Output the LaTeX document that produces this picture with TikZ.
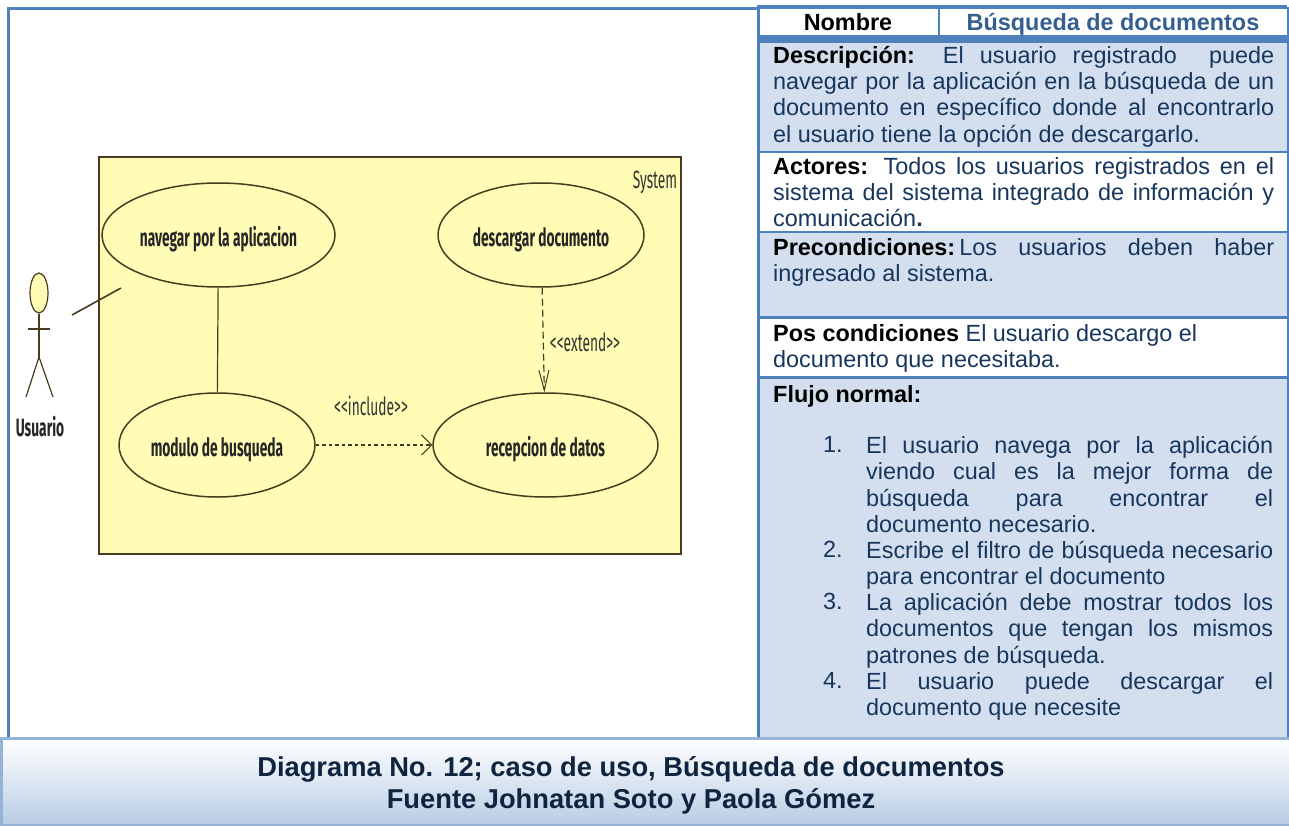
\documentclass[tikz,border=0pt]{standalone}
\usepackage{fontspec}
\setmainfont{Liberation Sans}
\newfontfamily\umlfont[FakeStretch=0.55]{Fira Sans}
\usetikzlibrary{arrows.meta,shapes.geometric}
\definecolor{tablaborde}{HTML}{4F81BD}
\definecolor{filaazul}{HTML}{D3DFEE}
\definecolor{textoazul}{HTML}{17365D}
\definecolor{tituloazul}{HTML}{365F91}
\definecolor{pieborde}{HTML}{95B3D7}
\definecolor{pieazul}{HTML}{B8CCE4}
\definecolor{pietexto}{HTML}{0F243E}
\definecolor{sistema}{HTML}{FFFCB5}
\definecolor{linea}{HTML}{4A3A20}
\tikzset{
	fila/.style={draw=tablaborde,line width=2.5pt,anchor=north west,inner sep=0pt,minimum width=530pt},
	filaazul/.style={fila,fill=filaazul},
	filablanca/.style={fila,fill=white},
	texto/.style={anchor=north west,inner sep=0pt,text=textoazul,align=justify,font=\fontsize{23.4}{26.3}\selectfont},
	casouso/.style={ellipse,draw=linea,line width=1.5pt,fill=sistema,inner sep=0pt,text height=28pt,font=\umlfont\fontsize{25}{28}\selectfont\bfseries,text=black!85},
	etiqueta/.style={font=\umlfont\fontsize{25}{28}\selectfont,text=black!80,inner sep=0pt},
	uml/.style={draw=linea,line width=1.2pt},
	puntaextend/.style={-{Straight Barb[length=20pt,width=10pt,line width=1pt]}},
	puntainclude/.style={-{Straight Barb[length=10pt,width=20pt,line width=1pt]}}
}
\begin{document}
\begin{tikzpicture}[x=1pt,y=-1pt]
	\useasboundingbox (0,0) rectangle (1289,826);
	\node[draw=tablaborde,line width=3pt,fill=white,anchor=north west,inner sep=0pt,minimum width=750pt,minimum height=731pt] (panel) at (7,7) {};
	\node[draw=linea,line width=2pt,fill=sistema,anchor=north west,inner sep=0pt,minimum width=582pt,minimum height=397pt] (sistema) at (98,156) {};
	\node[etiqueta] (systemlabel) at (655,182) {System};
	\node[casouso,minimum width=233pt,minimum height=104pt] (navegar) at (218.5,235) {navegar por la aplicacion};
	\node[casouso,minimum width=196pt,minimum height=104pt] (modulo) at (217,445) {modulo de busqueda};
	\node[casouso,minimum width=206pt,minimum height=104pt] (descargar) at (541,235) {descargar documento};
	\node[casouso,minimum width=225pt,minimum height=104pt] (recepcion) at (545.5,445) {recepcion de datos};
	\node[etiqueta] (include) at (371,406) {<<include>>};
	\node[etiqueta] (extend) at (585,342) {<<extend>>};
	\node[ellipse,uml,fill=sistema,inner sep=0pt,minimum width=18pt,minimum height=40pt] (cabeza) at (39,293) {};
	\coordinate (cadera) at (39,357);
	\coordinate (brazoi) at (28,329);
	\coordinate (brazod) at (50,329);
	\coordinate (piei) at (26,397);
	\coordinate (pied) at (53,397);
	\coordinate (asocini) at (72,315);
	\coordinate (asocfin) at (121,288);
	\node[font=\umlfont\fontsize{25}{28}\selectfont\bfseries,text=black!85,inner sep=0pt] (usuario) at (40,427) {Usuario};
	\draw[uml](cabeza)--(cadera);
	\draw[uml](brazoi)--(brazod);
	\draw[uml](cadera)--(piei);
	\draw[uml](cadera)--(pied);
	\draw[uml,line width=1.6pt](asocini)--(asocfin);
	\draw[uml](navegar)--(modulo);
	\draw[uml,puntaextend,dash pattern=on 7pt off 4pt](descargar)--(recepcion);
	\draw[uml,puntainclude,line width=1.8pt,dash pattern=on 3.5pt off 3pt](modulo)--(recepcion);
	\node[filablanca,minimum height=34pt] (nombre) at (757,7) {};
	\node[filaazul,minimum height=110pt] (descripcion) at (757,41) {};
	\node[filablanca,minimum height=80pt] (actores) at (757,151) {};
	\node[filaazul,minimum height=85pt] (precond) at (757,231) {};
	\node[filablanca,minimum height=60pt] (poscond) at (757,316) {};
	\node[filaazul,minimum height=361pt] (flujo) at (757,376) {};
	\draw[draw=tablaborde,line width=3pt] (757,7)--(1287,7);
	\draw[draw=tablaborde,line width=6pt] (757,38)--(1287,38);
	\coordinate (divarriba) at (939,7);
	\coordinate (divabajo) at (939,37);
	\draw[draw=tablaborde,line width=1.5pt](divarriba)--(divabajo);
	\node[anchor=base,inner sep=0pt,font=\fontsize{23.4}{26}\selectfont\bfseries,text=black] (nombrelabel) at (848,31) {Nombre};
	\node[anchor=base,inner sep=0pt,font=\fontsize{23.4}{26}\selectfont\bfseries,text=tituloazul] (titulo) at (1113,31) {Búsqueda de documentos};
	\node[texto,text width=501pt] (t1) at (773,46) {\textcolor{black}{\textbf{Descripción:}} El usuario registrado\ \ puede\linebreak navegar por la aplicación en la búsqueda de un\linebreak documento en específico donde al encontrarlo\linebreak el usuario tiene la opción de descargarlo.};
	\node[texto,text width=501pt] (t2) at (773,157) {\textcolor{black}{\textbf{Actores:}} Todos los usuarios registrados en el\linebreak sistema del sistema integrado de información y\linebreak comunicación\textbf{.}};
	\node[texto,text width=501pt] (t3) at (773,238) {\textcolor{black}{\textbf{Precondiciones:}}\hspace{4pt}Los usuarios deben haber\linebreak ingresado al sistema.};
	\node[texto,text width=501pt] (t4) at (773,324) {\textcolor{black}{\textbf{Pos condiciones}} El usuario descargo el\\documento que necesitaba.};
	\node[texto,text width=501pt] (t5) at (773,385) {\textcolor{black}{\textbf{Flujo normal:}}};
	\node[texto,text width=30pt] (n1) at (823,436) {1.};
	\node[texto,text width=407pt] (i1) at (866,436) {El usuario navega por la aplicación\linebreak viendo cual es la mejor forma de\linebreak búsqueda para encontrar el\linebreak documento necesario.};
	\node[texto,text width=30pt] (n2) at (823,541) {2.};
	\node[texto,text width=407pt] (i2) at (866,541) {Escribe el filtro de búsqueda necesario\linebreak para encontrar el documento};
	\node[texto,text width=30pt] (n3) at (823,593) {3.};
	\node[texto,text width=407pt] (i3) at (866,593) {La aplicación debe mostrar todos los\linebreak documentos que tengan los mismos\linebreak patrones de búsqueda.};
	\node[texto,text width=30pt] (n4) at (823,672) {4.};
	\node[texto,text width=407pt] (i4) at (866,672) {El usuario puede descargar el\linebreak documento que necesite};
	\node[anchor=north west,inner sep=0pt,draw=pieborde,line width=2.5pt,top color=white,bottom color=pieazul,minimum width=1289pt,minimum height=87pt] (pie) at (0,737) {};
	\node[inner sep=0pt,align=center,text=pietexto,font=\fontsize{27.3}{32}\selectfont\bfseries] (pietexto) at (631,785) {Diagrama No. 12; caso de uso, Búsqueda de documentos\\Fuente Johnatan Soto y Paola Gómez};
\end{tikzpicture}
\end{document}
